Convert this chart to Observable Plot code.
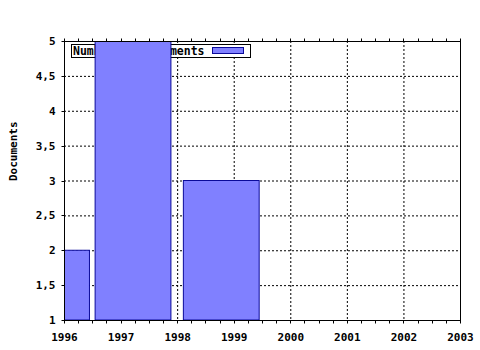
<!DOCTYPE html>
<html><head><meta charset="utf-8">
<script src="https://cdn.jsdelivr.net/npm/d3@7"></script>
<script src="https://cdn.jsdelivr.net/npm/@observablehq/plot@0.6"></script>
<style>body{margin:0;background:#fff}</style>
</head><body><div id="chart"></div>
<script>
const years = [1996, 1997, 1998];
const documents = [2, 5, 3];
const barStart = [1995.1, 1996.55, 1998.11];
const barEnd = [1996.45, 1997.89, 1999.45];
const xTickValues = [1996, 1997, 1998, 1999, 2000, 2001, 2002, 2003];
const xGridValues = [1997, 1998, 1999, 2000, 2001, 2002];
const yTickValues = [1, 1.5, 2, 2.5, 3, 3.5, 4, 4.5, 5];
const yGridValues = [1.5, 2, 2.5, 3, 3.5, 4, 4.5];
const yTickLabels = ["1", "1,5", "2", "2,5", "3", "3,5", "4", "4,5", "5"];
const seriesName = "Number of documents";
const yTitle = "Documents";

const bars = years.map((year, i) => ({year, value: documents[i], x1: barStart[i], x2: barEnd[i]}));
const minorX = d3.range(0, 29).map(i => 1996 + i * 0.25);

const FILL = "#8080ff", EDGE = "#0a0a9a";
const FONT = "'DejaVu Sans Mono', monospace";

function fallbackScales(dims) {
  return {
    x: d3.scaleLinear([1996, 2003], [dims.marginLeft, dims.width - dims.marginRight]),
    y: d3.scaleLinear([1, 5], [dims.height - dims.marginBottom, dims.marginTop])
  };
}

function tickMarks(index, scales, values, dims) {
  const fb = fallbackScales(dims);
  const x = (scales && scales.x) || fb.x, y = (scales && scales.y) || fb.y;
  const g = d3.create("svg:g").attr("stroke", "black").attr("transform", "translate(0.5,0.5)");
  const top = dims.marginTop, bottom = dims.height - dims.marginBottom, left = dims.marginLeft;
  for (const v of minorX) {
    const px = Math.round(x(v));
    g.append("line").attr("x1", px).attr("x2", px).attr("y1", bottom).attr("y2", bottom + 3);
    g.append("line").attr("x1", px).attr("x2", px).attr("y1", top).attr("y2", top - 3);
  }
  for (const v of yTickValues) {
    const py = Math.round(y(v));
    g.append("line").attr("x1", left - 3).attr("x2", left).attr("y1", py).attr("y2", py);
  }
  return g.node();
}

function legend(index, scales, values, dims) {
  const g = d3.create("svg:g");
  const x0 = dims.marginLeft + 7, y0 = dims.marginTop + 3;
  g.append("rect").attr("x", x0 + 0.5).attr("y", y0 + 0.5).attr("width", 179).attr("height", 13)
    .attr("fill", "white").attr("stroke", "black");
  g.append("text").attr("x", x0 + 2).attr("y", y0 + 10.5).attr("fill", "black")
    .attr("text-anchor", "start")
    .attr("font-family", FONT).attr("font-weight", "bold").attr("font-size", "11.5px").text(seriesName);
  g.append("rect").attr("x", x0 + 141.5).attr("y", y0 + 3.5).attr("width", 31).attr("height", 6)
    .attr("fill", FILL).attr("stroke", EDGE);
  return g.node();
}

const chart = Plot.plot({
  width: 480,
  height: 350,
  marginLeft: 64,
  marginRight: 20,
  marginTop: 41,
  marginBottom: 30,
  style: {fontFamily: FONT, fontWeight: "bold", fontSize: "11px", background: "white", color: "black"},
  x: {domain: [1996, 2003], ticks: xTickValues, tickFormat: d => String(d), tickSize: 0, tickPadding: 13, label: null},
  y: {domain: [1, 5], ticks: yTickValues, tickFormat: d => yTickLabels[yTickValues.indexOf(d)], tickSize: 0, tickPadding: 9, label: null},
  marks: [
    Plot.ruleX(xGridValues, {x: d => d, stroke: "black", strokeDasharray: "2,2"}),
    Plot.ruleY(yGridValues, {y: d => d, stroke: "black", strokeDasharray: "2,2"}),
    legend,
    Plot.rect(bars, {x1: "x1", x2: "x2", y1: 1, y2: "value", fill: FILL, stroke: EDGE, strokeWidth: 1, clip: true}),
    Plot.frame({stroke: "black"}),
    tickMarks,
    Plot.text([yTitle], {text: d => d, frameAnchor: "left", dx: -51, rotate: -90, fontSize: 11, fontWeight: "bold", fill: "black"})
  ]
});
document.getElementById("chart").appendChild(chart);
</script>
</body></html>
